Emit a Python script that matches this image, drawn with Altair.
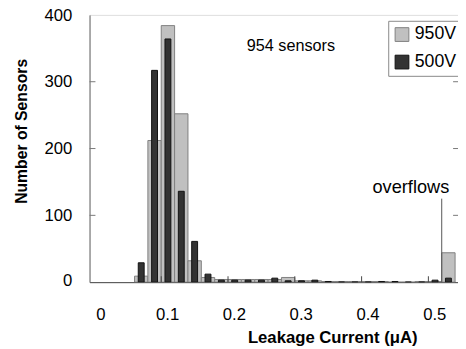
import altair as alt
import pandas as pd

# ---- data ----
bin_starts = [0.06, 0.08, 0.10, 0.12, 0.14, 0.16, 0.18, 0.20, 0.22, 0.24, 0.26, 0.28,
              0.30, 0.32, 0.34, 0.36, 0.38, 0.40, 0.42, 0.44, 0.46, 0.48, 0.50, 0.52]
counts_950 = [9, 212, 384, 252, 32, 7, 4, 4, 4, 4, 4, 7,
              2, 2, 1, 1, 1, 1, 1, 0, 0, 1, 1, 44]
counts_500 = [29, 317, 364, 136, 61, 12, 3, 3, 3, 3, 6, 2,
              2, 3, 1, 0, 0, 0, 1, 1, 0, 0, 3, 6]
bin_width = 0.02
series = ["950V", "500V"]
x_label_values = [0, 0.1, 0.2, 0.3, 0.4, 0.5]
y_label_values = [0, 100, 200, 300, 400]
x_tick_values = [0.1, 0.2, 0.3, 0.4, 0.5]
y_tick_values = [100, 200, 300]
overflow_edge = [0.52]
overflow_marker_top = [125]
annotations = ["954 sensors", "overflows"]
x_title = "Leakage Current (μA)"
y_title = "Number of Sensors"

W, H = 375, 272
FONT = "Liberation Sans"

df950 = pd.DataFrame({
    "start": bin_starts,
    "end": [s + bin_width for s in bin_starts],
    "count": counts_950,
    "series": series[0],
})
df500 = pd.DataFrame({
    "center": [s + bin_width / 2 for s in bin_starts],
    "count": counts_500,
    "series": series[1],
})

xscale = alt.Scale(domain=[0, 0.537], nice=False, zero=False)
yscale = alt.Scale(domain=[0, 400], nice=False)
fill_scale = alt.Scale(domain=series, range=["#c0c0c0", "#333333"])
stroke_scale = alt.Scale(domain=series, range=["#808080", "#111111"])

legend = alt.Legend(
    title=None, orient="none", legendX=304, legendY=6,
    strokeColor="#888888", fillColor="white", padding=5,
    symbolType="square", symbolSize=196, symbolStrokeWidth=1,
    labelFontSize=18, labelFont=FONT, labelColor="black",
    rowPadding=10, labelOffset=4,
)

xaxis = alt.Axis(
    values=x_label_values,
    labelExpr="datum.value == 0 ? '0' : format(datum.value, '.1f')",
    ticks=False, tickSize=0, labelPadding=25, labelOffset=6, labelFlush=False,
    labelFontSize=17, labelFont=FONT, labelColor="black",
    domainColor="#444444", grid=False,
    titleFontSize=17, titleFont=FONT, titleFontWeight="bold", titleColor="black",
    titleX=247, titleY=61, titleBaseline="alphabetic", titleAlign="center",
)
yaxis = alt.Axis(
    values=y_label_values,
    ticks=False, tickSize=0, labelPadding=18,
    labelFlush=True, labelFlushOffset=7,
    labelFontSize=17, labelFont=FONT, labelColor="black",
    domainColor="#666666", grid=False,
    titleFontSize=16, titleFont=FONT, titleFontWeight="bold", titleColor="black",
    titleX=-69, titleY=118, titleAngle=270, titleAlign="center", titleBaseline="middle",
)


def X(field):
    return alt.X(field, scale=xscale, axis=xaxis, title=x_title)


def Y(field):
    return alt.Y(field, scale=yscale, axis=yaxis, title=y_title)


gray = alt.Chart(df950).mark_bar(strokeWidth=1, clip=True).encode(
    x=X("start:Q"),
    x2="end:Q",
    y=Y("count:Q"),
    y2=alt.datum(0),
    fill=alt.Fill("series:N", scale=fill_scale, legend=legend),
    stroke=alt.Stroke("series:N", scale=stroke_scale, legend=legend),
)

dark = alt.Chart(df500).mark_bar(size=6, strokeWidth=1, clip=True).encode(
    x=X("center:Q"),
    y=Y("count:Q"),
    fill=alt.Fill("series:N", scale=fill_scale, legend=legend),
    stroke=alt.Stroke("series:N", scale=stroke_scale, legend=legend),
)

ytick_df = pd.DataFrame({"v": y_tick_values})
xtick_df = pd.DataFrame({"v": x_tick_values})

left_ticks = alt.Chart(ytick_df).mark_rule(color="#777777").encode(
    y=Y("v:Q"), x=alt.value(0), x2=alt.value(6))
right_ticks = alt.Chart(ytick_df).mark_rule(color="#777777").encode(
    y=Y("v:Q"), x=alt.value(W - 5), x2=alt.value(W))
bottom_ticks = alt.Chart(xtick_df).mark_rule(color="#444444").encode(
    x=X("v:Q"), y=alt.value(H), y2=alt.value(H - 6))

sep = alt.Chart(pd.DataFrame({"x": overflow_edge, "y": overflow_marker_top})).mark_rule(
    color="#555555").encode(
    x=X("x:Q"),
    y=Y("y:Q"),
    y2=alt.datum(0),
)

txt1 = alt.Chart(pd.DataFrame({"t": [annotations[0]]})).mark_text(
    align="left", baseline="middle", fontSize=16.5, font=FONT, color="black").encode(
    text="t:N", x=alt.value(160), y=alt.value(32))
txt2 = alt.Chart(pd.DataFrame({"t": [annotations[1]]})).mark_text(
    align="left", baseline="middle", fontSize=18.5, font=FONT, color="black").encode(
    text="t:N", x=alt.value(288), y=alt.value(175))

chart = alt.layer(gray, dark, left_ticks, right_ticks, bottom_ticks, sep, txt1, txt2).properties(
    width=W, height=H,
    autosize=alt.AutoSizeParams(type="none"),
    padding={"left": 83, "top": 4, "right": 0, "bottom": 65},
).configure_view(stroke="#b0b0b0", strokeWidth=1).configure(background="white")

chart.save("out.html", embed_options={"renderer": "svg", "actions": False})
